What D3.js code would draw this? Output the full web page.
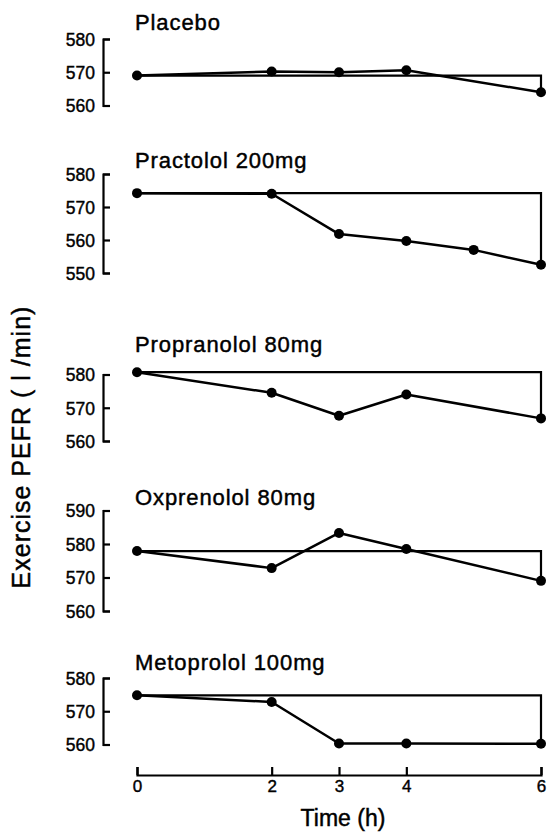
<!DOCTYPE html>
<html>
<head>
<meta charset="utf-8">
<script src="https://cdn.jsdelivr.net/npm/d3@7"></script>
<style>
  html, body { margin: 0; padding: 0; background: #fff; }
  svg { display: block; font-family: "Liberation Sans", Arial, Helvetica, sans-serif; }
</style>
</head>
<body>
<svg id="chart" width="547" height="832"></svg>
<script>
// ---- data ----
const panelTitles = ["Placebo", "Practolol 200mg", "Propranolol 80mg", "Oxprenolol 80mg", "Metoprolol 100mg"];
const timeTicks = [0, 2, 3, 4, 6];
const placeboTimes = [0, 2, 3, 4, 6];
const placeboValues = [569, 570.2, 570, 570.6, 564];
const practololTimes = [0, 2, 3, 4, 5, 6];
const practololValues = [574.2, 574, 561.8, 559.7, 557, 552.5];
const propranololTimes = [0, 2, 3, 4, 6];
const propranololValues = [580.7, 574.5, 567.6, 574, 566.8];
const oxprenololTimes = [0, 2, 3, 4, 6];
const oxprenololValues = [577.9, 572.8, 583.3, 578.5, 569];
const metoprololTimes = [0, 2, 3, 4, 6];
const metoprololValues = [574.8, 572.8, 560.3, 560.3, 560.2];
const placeboTicks = [560, 570, 580];
const practololTicks = [550, 560, 570, 580];
const propranololTicks = [560, 570, 580];
const oxprenololTicks = [560, 570, 580, 590];
const metoprololTicks = [560, 570, 580];
const yAxisLabel = "Exercise PEFR ( l /min)";
const xAxisLabel = "Time (h)";

// ---- layout ----
const panels = [
  { title: panelTitles[0], t: placeboTimes, v: placeboValues, ticks: placeboTicks, range: [105.5, 39], titleY: 30 },
  { title: panelTitles[1], t: practololTimes, v: practololValues, ticks: practololTicks, range: [273, 174], titleY: 168 },
  { title: panelTitles[2], t: propranololTimes, v: propranololValues, ticks: propranololTicks, range: [441, 374.5], titleY: 352 },
  { title: panelTitles[3], t: oxprenololTimes, v: oxprenololValues, ticks: oxprenololTicks, range: [611, 510.5], titleY: 505 },
  { title: panelTitles[4], t: metoprololTimes, v: metoprololValues, ticks: metoprololTicks, range: [744.5, 678], titleY: 670 }
];

const svg = d3.select("#chart");
const x = d3.scaleLinear().domain([0, 6]).range([137, 541]);
const axisX = 103;
const FONT = "'Liberation Sans', Arial, sans-serif";

function heavy(sel, w) {
  sel.attr("fill", "#000").attr("stroke", "#000").attr("stroke-width", w).attr("font-family", FONT);
}

panels.forEach(p => {
  const y = d3.scaleLinear().domain(d3.extent(p.ticks)).range(p.range);
  const g = svg.append("g");

  // title
  g.append("text")
    .attr("x", 135).attr("y", p.titleY)
    .attr("font-size", 22).attr("letter-spacing", 0.9)
    .call(heavy, 0.45)
    .text(p.title);

  // y axis (bracket with inward ticks)
  const ax = g.append("g")
    .attr("transform", `translate(${axisX},0)`)
    .call(d3.axisLeft(y).tickValues(p.ticks).tickSizeInner(-7).tickSizeOuter(-7).tickPadding(8).tickFormat(d3.format("d")));
  ax.select(".domain").attr("stroke", "#000").attr("stroke-width", 2.2);
  ax.selectAll(".tick line").attr("stroke", "#000").attr("stroke-width", 2.2);
  ax.selectAll(".tick text").attr("font-size", 17.5).attr("dy", "0.36em").call(heavy, 0.4);

  const base = p.v[0];
  const last = p.v[p.v.length - 1];
  const tEnd = p.t[p.t.length - 1];

  // baseline reference: horizontal from t0 to end, then drop to last value
  const refLine = d3.line().x(d => x(d[0])).y(d => y(d[1]));
  g.append("path")
    .attr("d", refLine([[p.t[0], base], [tEnd, base], [tEnd, last]]))
    .attr("fill", "none").attr("stroke", "#000").attr("stroke-width", 2.2);

  // data line
  const pts = p.t.map((t, i) => [t, p.v[i]]);
  g.append("path")
    .attr("d", refLine(pts))
    .attr("fill", "none").attr("stroke", "#000").attr("stroke-width", 2.5)
    .attr("stroke-linejoin", "round");

  g.selectAll("circle").data(pts).join("circle")
    .attr("cx", d => x(d[0])).attr("cy", d => y(d[1]))
    .attr("r", 5).attr("fill", "#000");
});

// x axis (ticks pointing up)
const xa = svg.append("g")
  .attr("transform", "translate(0,775)")
  .call(d3.axisBottom(x).tickValues(timeTicks).tickSizeInner(-8).tickSizeOuter(-8).tickPadding(5).tickFormat(d3.format("d")));
xa.select(".domain").attr("stroke", "#000").attr("stroke-width", 2.2);
xa.selectAll(".tick line").attr("stroke", "#000").attr("stroke-width", 2.2);
xa.selectAll(".tick text").attr("font-size", 17).call(heavy, 0.4);

svg.append("text")
  .attr("x", 343).attr("y", 826)
  .attr("text-anchor", "middle")
  .attr("font-size", 23)
  .call(heavy, 0.45)
  .text(xAxisLabel);

svg.append("text")
  .attr("transform", "translate(30,447) rotate(-90)")
  .attr("text-anchor", "middle")
  .attr("font-size", 25).attr("letter-spacing", 1)
  .call(heavy, 0.45)
  .text(yAxisLabel);
</script>
</body>
</html>
